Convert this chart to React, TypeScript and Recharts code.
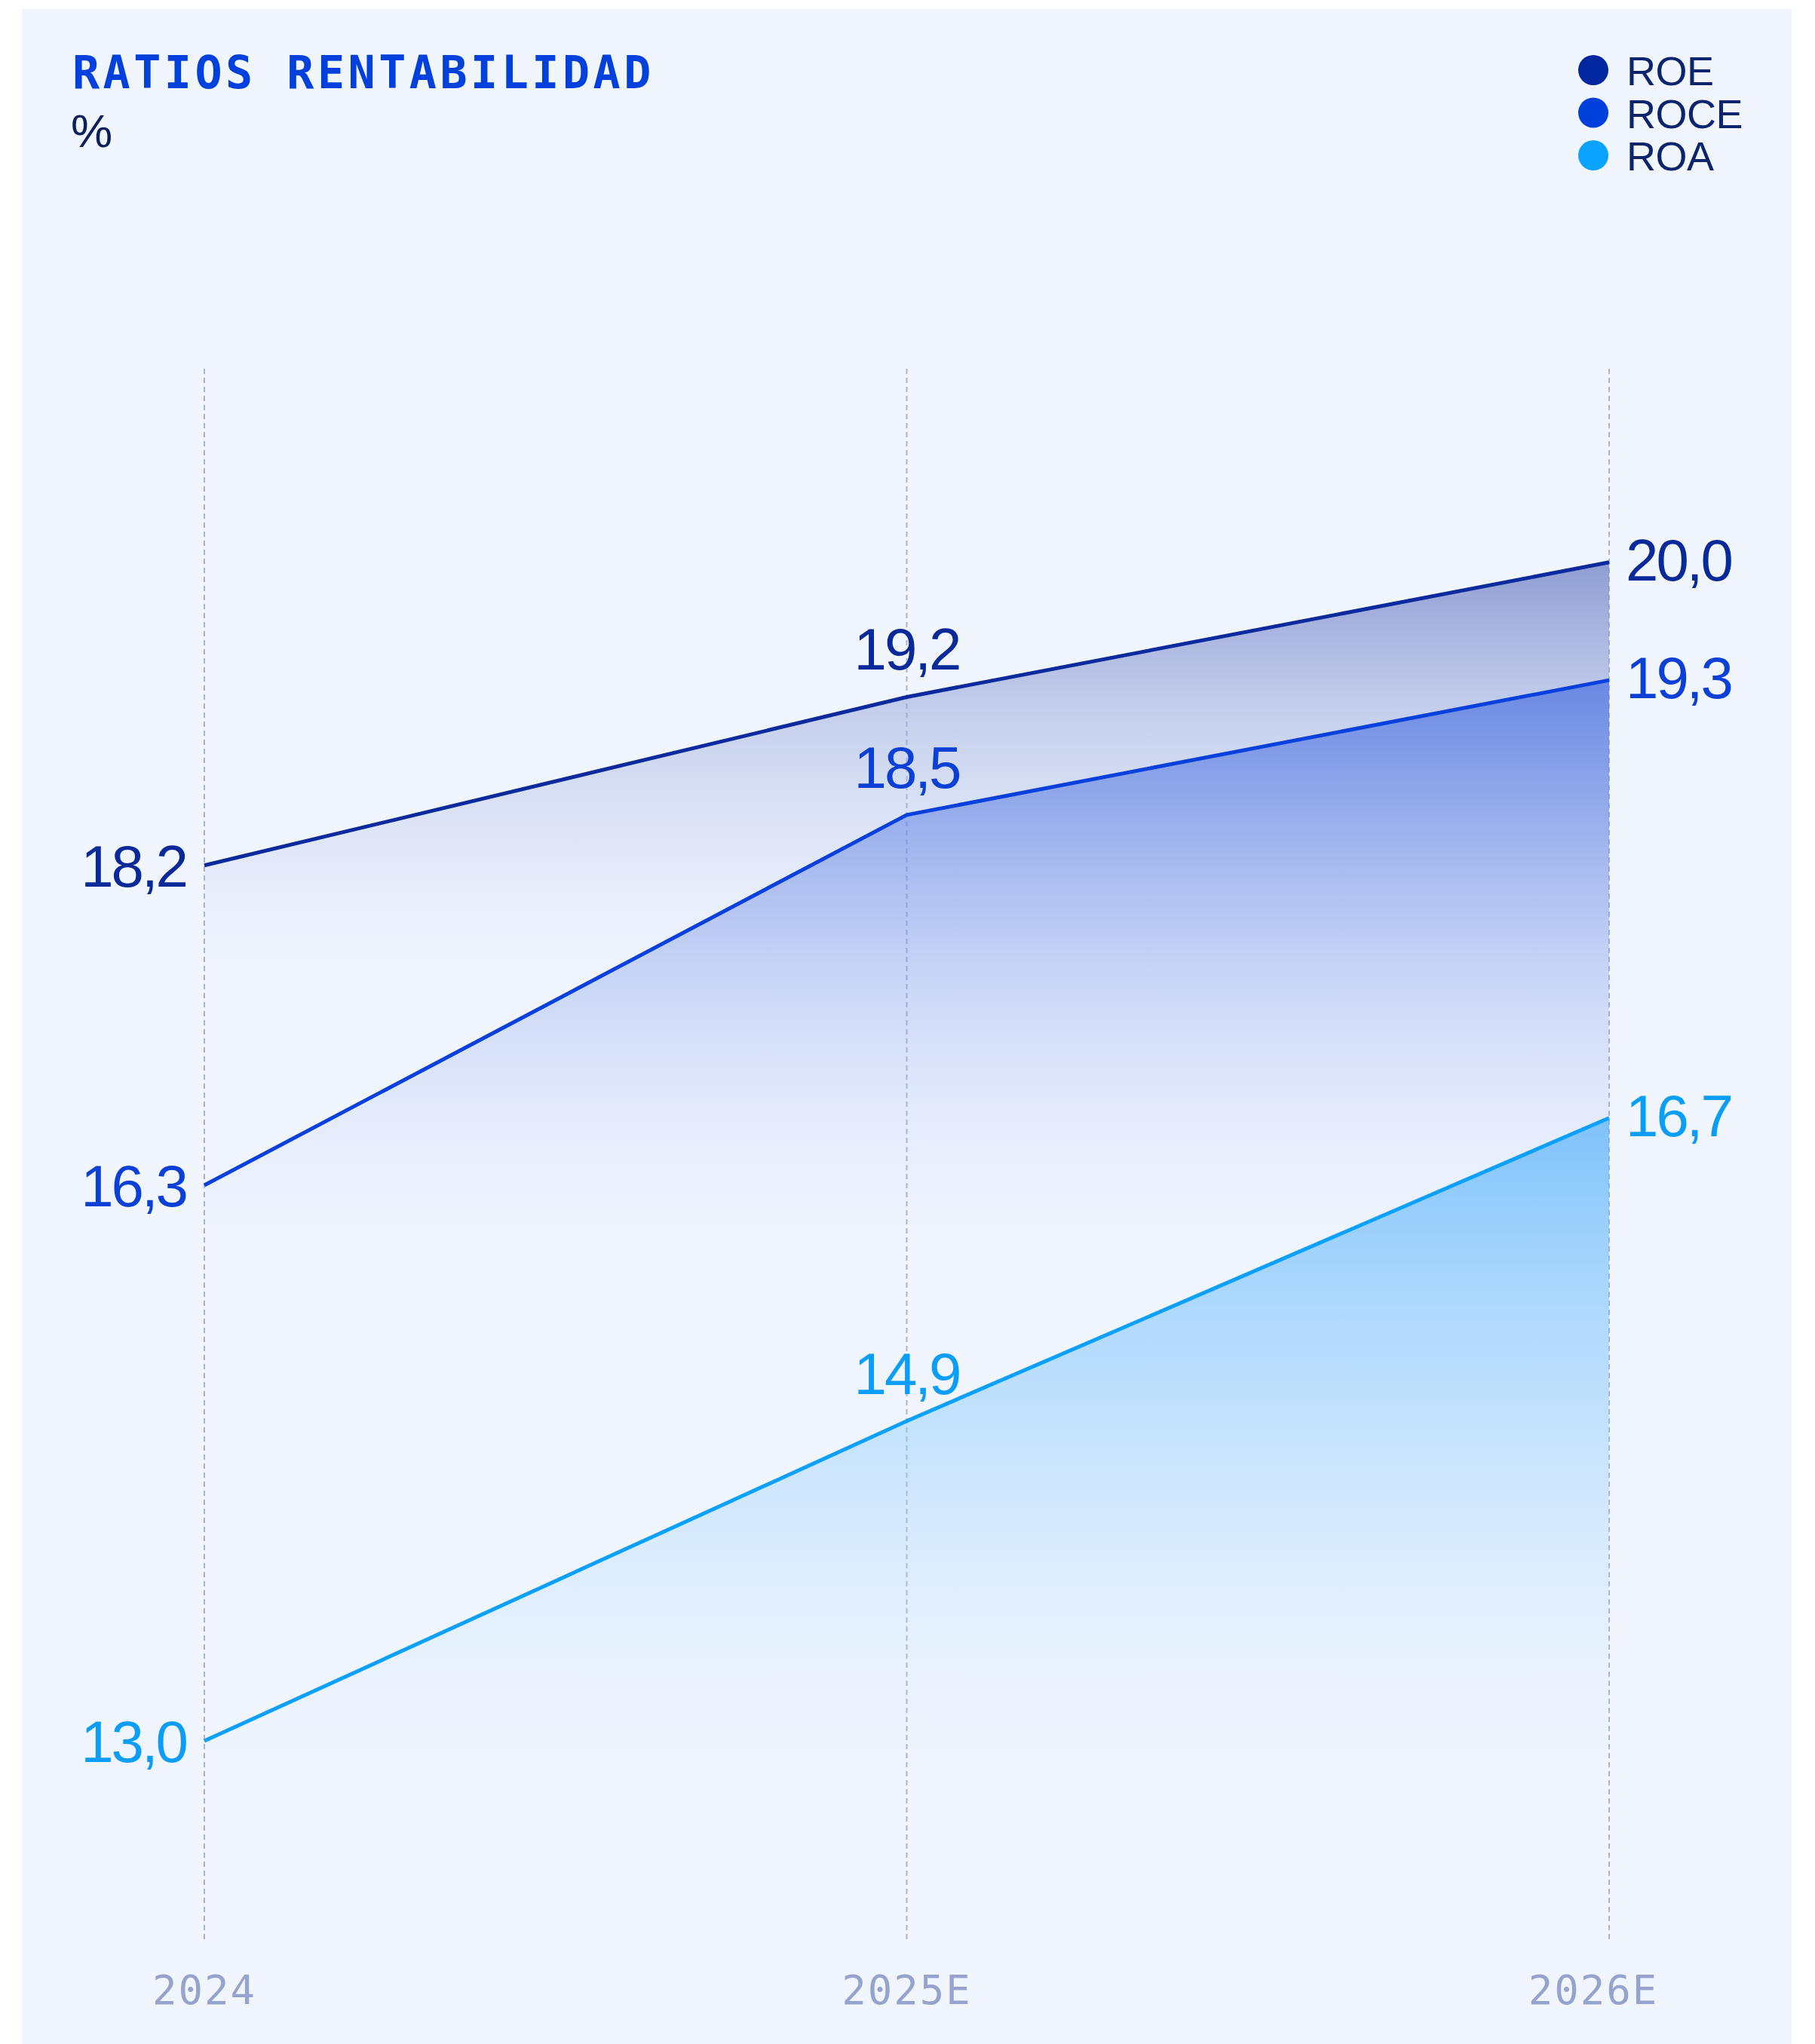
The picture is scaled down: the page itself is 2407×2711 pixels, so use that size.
import React from 'react';
import {
  ComposedChart,
  Area,
  XAxis,
  YAxis,
  CartesianGrid,
  LabelList,
} from 'recharts';

const YEARS = ['2024', '2025E', '2026E'];
const ROE = [18.2, 19.2, 20.0];
const ROCE = [16.3, 18.5, 19.3];
const ROA = [13.0, 14.9, 16.7];

const SERIES = [
  { key: 'roe', name: 'ROE', color: '#0a2a9e', label: '#07299a', dot: '#0026a0', grad: 'gRoe' },
  { key: 'roce', name: 'ROCE', color: '#0840dd', label: '#0a3fd8', dot: '#0040dd', grad: 'gRoce' },
  { key: 'roa', name: 'ROA', color: '#0aa0ff', label: '#0a9ef8', dot: '#0aa3ff', grad: 'gRoa' },
];

const data = YEARS.map((year, i) => ({
  year,
  roe: ROE[i],
  roce: ROCE[i],
  roa: ROA[i],
}));

const W = 2407;
const H = 2711;

function fmt(v: number): string {
  return v.toFixed(1).replace('.', ',');
}

function makeLabel(color: string) {
  return (props: any) => {
    const { x, y, value, index } = props;
    const common = {
      fill: color,
      fontSize: 78,
      fontFamily: '"Liberation Sans", Arial, sans-serif',
      letterSpacing: -3,
    };
    if (index === 0) {
      return (
        <text x={x - 24} y={y + 28} textAnchor="end" {...common}>
          {fmt(value)}
        </text>
      );
    }
    if (index === YEARS.length - 1) {
      return (
        <text x={x + 22} y={y + 24} textAnchor="start" {...common}>
          {fmt(value)}
        </text>
      );
    }
    return (
      <text x={x} y={y - 36} textAnchor="middle" {...common}>
        {fmt(value)}
      </text>
    );
  };
}

function YearTick(props: any) {
  const { x, y, payload, index } = props;
  // last label sits a little left of its gridline in the original
  const shift = index === YEARS.length - 1 ? -21 : 0;
  return (
    <text
      x={x + shift}
      y={y + 81}
      textAnchor="middle"
      fill="#97a3cf"
      fontSize={54}
      fontFamily='"DejaVu Sans Mono", monospace'
      letterSpacing={2}
    >
      {payload.value}
    </text>
  );
}

export default function App() {
  return (
    <div
      style={{
        position: 'absolute',
        left: 0,
        top: 0,
        width: W,
        height: H,
        background: '#ffffff',
        overflow: 'hidden',
      }}
    >
      <div
        style={{
          position: 'absolute',
          left: 29,
          top: 12,
          width: 2347,
          height: H - 12,
          background: '#f0f5fe',
        }}
      />

      <div style={{ position: 'absolute', left: 0, top: 0 }}>
        <ComposedChart
          width={W}
          height={H}
          data={data}
          margin={{ top: 489, right: 273, bottom: 74, left: 271 }}
        >
          <defs>
            <linearGradient id="gRoe" x1="0" y1="0" x2="0" y2="1">
              <stop offset="0" stopColor="#7d8dca" stopOpacity={0.85} />
              <stop offset="0.12" stopColor="#9aa8da" stopOpacity={0.45} />
              <stop offset="0.3" stopColor="#c5cfee" stopOpacity={0} />
            </linearGradient>
            <linearGradient id="gRoce" x1="0" y1="0" x2="0" y2="1">
              <stop offset="0" stopColor="#4d74e0" stopOpacity={0.75} />
              <stop offset="0.25" stopColor="#7d97e8" stopOpacity={0.3} />
              <stop offset="0.45" stopColor="#c5d2f6" stopOpacity={0} />
            </linearGradient>
            <linearGradient id="gRoa" x1="0" y1="0" x2="0" y2="1">
              <stop offset="0" stopColor="#5cb4fa" stopOpacity={0.75} />
              <stop offset="0.4" stopColor="#8ccafb" stopOpacity={0.4} />
              <stop offset="0.8" stopColor="#cde6fd" stopOpacity={0} />
            </linearGradient>
          </defs>
          <CartesianGrid
            horizontal={false}
            stroke="#a9b4d6"
            strokeDasharray="7 5"
            strokeWidth={2}
          />
          <XAxis
            dataKey="year"
            axisLine={false}
            tickLine={false}
            tickSize={0}
            tickMargin={0}
            height={60}
            interval={0}
            tick={<YearTick />}
          />
          <YAxis type="number" hide domain={[11.8, 21.15]} />
          {SERIES.map((s) => (
            <Area
              key={s.key}
              type="linear"
              dataKey={s.key}
              stroke={s.color}
              strokeWidth={5}
              fill={`url(#${s.grad})`}
              fillOpacity={1}
              dot={false}
              activeDot={false}
              isAnimationActive={false}
            >
              <LabelList dataKey={s.key} content={makeLabel(s.label)} />
            </Area>
          ))}
        </ComposedChart>
      </div>

      {/* title + legend */}
      <svg
        width={W}
        height={300}
        style={{ position: 'absolute', left: 0, top: 0 }}
      >
        <text
          x={96}
          y={117}
          fill="#0040dd"
          fontSize={60}
          fontWeight="bold"
          fontFamily='"DejaVu Sans Mono", monospace'
          letterSpacing={4.5}
        >
          RATIOS RENTABILIDAD
        </text>
        <text
          x={94}
          y={195}
          fill="#0a1f5c"
          fontSize={62}
          fontFamily='"Liberation Sans", Arial, sans-serif'
        >
          %
        </text>
        {SERIES.map((s, i) => (
          <g key={s.key}>
            <circle cx={2113} cy={93 + i * 56.5} r={20} fill={s.dot} />
            <text
              x={2157}
              y={113 + i * 56.5}
              fill="#0a2470"
              fontSize={54}
              fontFamily='"Liberation Sans", Arial, sans-serif'
              letterSpacing={-0.5}
            >
              {s.name}
            </text>
          </g>
        ))}
      </svg>
    </div>
  );
}
